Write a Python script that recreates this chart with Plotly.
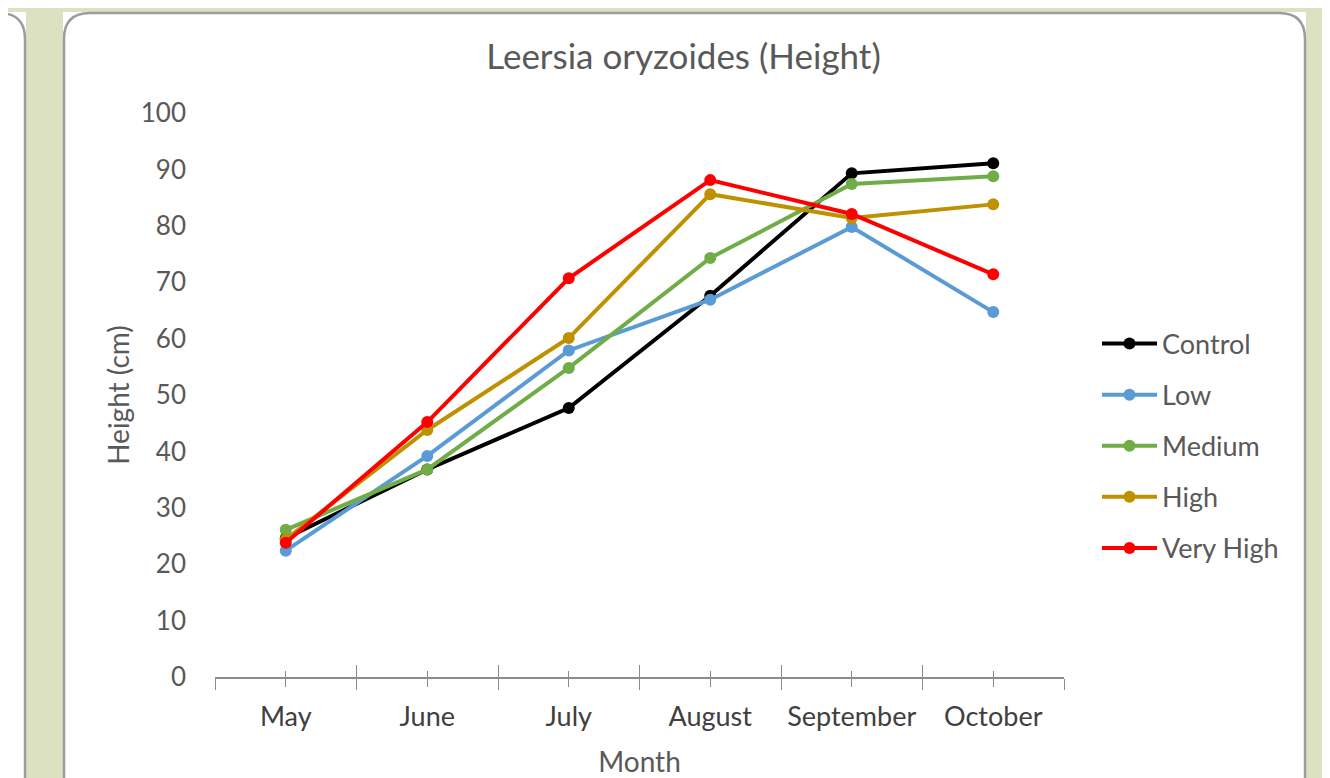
import plotly.graph_objects as go

# ── Data
months    = ['May', 'June', 'July', 'August', 'September', 'October']
control   = [24.6, 36.8, 47.7, 67.6, 89.3, 91.1]
low       = [22.4, 39.2, 57.9, 66.9, 79.8, 64.7]
medium    = [26.1, 36.8, 54.8, 74.3, 87.4, 88.8]
high      = [24.4, 43.8, 60.1, 85.6, 81.4, 83.8]
very_high = [23.8, 45.2, 70.7, 88.1, 82.1, 71.4]

series_names  = ['Control', 'Low', 'Medium', 'High', 'Very High']
series_values = [control, low, medium, high, very_high]
series_colors = ['#000000', '#5b9bd5', '#70ad47', '#bf9000', '#ff0000']

# ── Style constants
OFF = 8                      # page body margin offset
W, H = 1330 - OFF, 778 - OFF
PLOT_L, PLOT_R, PLOT_T, PLOT_B = 215, 1064, 113, 677   # in screen pixels
FONT = 'Lato'
TEXT_COLOR = '#595959'
AXIS_COLOR = '#8c8c8c'
BG_COLOR = '#dce2c1'


def px_x(x):
    return (x - PLOT_L) / (PLOT_R - PLOT_L)


def px_y(y):
    return (PLOT_B - y) / (PLOT_B - PLOT_T)


def rounded_border(x0, y0, x1, y1, r):
    # open rounded outline (left, top, right edges) in screen px -> paper coords
    pts = [
        f'M{px_x(x0)},{px_y(y1)}',
        f'L{px_x(x0)},{px_y(y0 + r)}',
        f'Q{px_x(x0)},{px_y(y0)} {px_x(x0 + r)},{px_y(y0)}',
        f'L{px_x(x1 - r)},{px_y(y0)}',
        f'Q{px_x(x1)},{px_y(y0)} {px_x(x1)},{px_y(y0 + r)}',
        f'L{px_x(x1)},{px_y(y1)}',
    ]
    return ' '.join(pts)


x_idx = list(range(len(months)))

fig = go.Figure()
for name, vals, color in zip(series_names, series_values, series_colors):
    fig.add_trace(go.Scatter(
        x=x_idx, y=vals, name=name, mode='lines+markers',
        line=dict(color=color, width=4),
        marker=dict(color=color, size=12),
        legendgroup=name,
    ))

# invisible helper trace so the overlay axis (inward half of crossing ticks) renders
fig.add_trace(go.Scatter(x=[x_idx[0]], y=[control[0]], xaxis='x2', mode='markers',
                         marker=dict(opacity=0), showlegend=False, hoverinfo='skip'))

# white panels with rounded grey outlines
border = dict(color='#9d9d9d', width=2.5)
for bx0, bx1 in [(-40, 25), (62, 1305)]:
    fig.add_shape(type='rect', xref='paper', yref='paper', layer='below',
                  x0=px_x(bx0 + 1), x1=px_x(bx1 + 1), y0=px_y(820), y1=px_y(12),
                  fillcolor='white', line_width=0)
    fig.add_shape(type='path', xref='paper', yref='paper', layer='below',
                  path=rounded_border(bx0 + 2, 13, bx1, 820, 26), line=border)

xrange = [-0.5, len(months) - 0.5]
fig.update_layout(
    width=W, height=H,
    margin=dict(l=PLOT_L - OFF, r=1330 - PLOT_R, t=PLOT_T - OFF, b=778 - PLOT_B),
    paper_bgcolor=BG_COLOR,
    plot_bgcolor='rgba(0,0,0,0)',
    font=dict(family=FONT, size=27, color=TEXT_COLOR),
    title=dict(text='Leersia oryzoides (Height)', xref='container', yref='container',
               x=(683.5 - OFF) / W, xanchor='center', y=1 - (57 - OFF) / H, yanchor='middle',
               font=dict(size=35, color=TEXT_COLOR)),
    xaxis=dict(
        range=xrange, tickmode='array', tickvals=x_idx, ticktext=months,
        showgrid=False, zeroline=False, automargin=False,
        showline=True, linecolor=AXIS_COLOR, linewidth=1.5,
        ticks='outside', ticklen=8, tickcolor=AXIS_COLOR, tickwidth=1.2,
        minor=dict(tick0=-0.5, dtick=1, ticks='outside', ticklen=11,
                   tickcolor=AXIS_COLOR, tickwidth=1.2, showgrid=False),
        ticklabelstandoff=7,
        tickfont=dict(size=27, color='#404040'),
        title=dict(text='Month', standoff=22, font=dict(size=28, color=TEXT_COLOR)),
    ),
    xaxis2=dict(
        range=xrange, overlaying='x', anchor='y', side='bottom', automargin=False,
        tickmode='array', tickvals=x_idx, showticklabels=False,
        showgrid=False, zeroline=False, showline=False,
        ticks='inside', ticklen=6, tickcolor=AXIS_COLOR, tickwidth=1.2,
        minor=dict(tick0=-0.5, dtick=1, ticks='inside', ticklen=12,
                   tickcolor=AXIS_COLOR, tickwidth=1.2, showgrid=False),
    ),
    yaxis=dict(
        range=[0, 100], tickmode='linear', tick0=0, dtick=10,
        showgrid=False, zeroline=False, showline=False, ticks='', automargin=False,
        ticklabelstandoff=28,
        tickfont=dict(size=26, color=TEXT_COLOR),
        title=dict(text='Height (cm)', standoff=2, font=dict(size=28, color=TEXT_COLOR)),
    ),
    legend=dict(
        xref='paper', yref='paper', x=px_x(1097), xanchor='left',
        y=px_y(446), yanchor='middle',
        bgcolor='rgba(0,0,0,0)', font=dict(size=27, color=TEXT_COLOR),
        tracegroupgap=13, itemwidth=55,
    ),
    showlegend=True,
)

fig.write_html('out.html')
